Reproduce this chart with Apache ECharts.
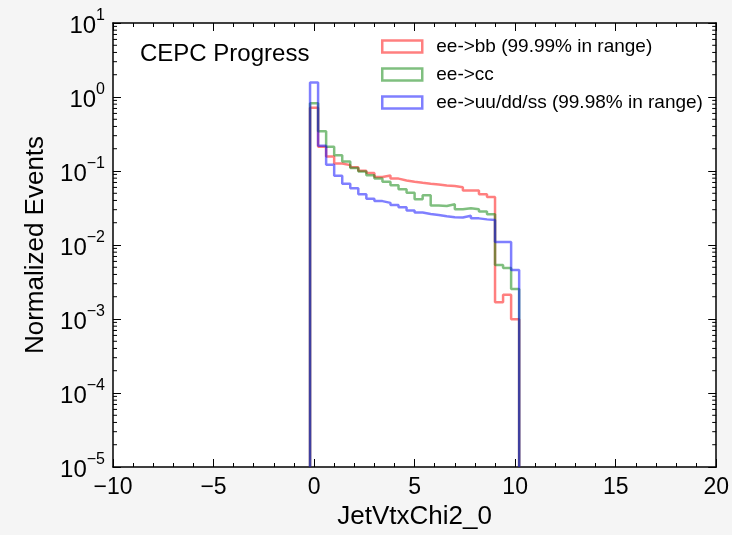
<!DOCTYPE html>
<html>
<head>
<meta charset="utf-8">
<title>JetVtxChi2_0</title>
<script src="https://cdn.jsdelivr.net/npm/echarts@6/dist/echarts.min.js"></script>
<style>
  html, body { margin: 0; padding: 0; background: #f5f5f5; }
  #chart { width: 732px; height: 535px; }
</style>
</head>
<body>
<div id="chart"></div>
<script>
// Histogram bin edges (26 bins of width 0.4)
const binEdges = [-0.2, 0.2, 0.6, 1.0, 1.4, 1.8, 2.2, 2.6, 3.0, 3.4, 3.8, 4.2, 4.6,
  5.0, 5.4, 5.8, 6.2, 6.6, 7.0, 7.4, 7.8, 8.2, 8.6, 9.0, 9.4, 9.8, 10.2];

// Normalized bin contents per sample
const bbValues = [0.713, 0.213, 0.157, 0.126, 0.120, 0.112, 0.101, 0.094, 0.0832, 0.0871,
  0.0789, 0.0743, 0.0714, 0.0692, 0.0671, 0.0657, 0.0637, 0.0625, 0.0603, 0.0546,
  0.0546, 0.0486, 0.0446, 0.00169, 0.00213, 0.00099];
const ccValues = [0.824, 0.345, 0.212, 0.163, 0.134, 0.110, 0.0988, 0.0877, 0.0794, 0.0714,
  0.0641, 0.0567, 0.0509, 0.0414, 0.0469, 0.0342, 0.0336, 0.0355, 0.0305, 0.0314,
  0.0305, 0.0284, 0.0261, 0.00536, 0.00489, 0.00254];
const udsValues = [1.57, 0.220, 0.121, 0.0863, 0.0671, 0.0584, 0.0486, 0.0423, 0.0392, 0.0371,
  0.0347, 0.0324, 0.0293, 0.0275, 0.0263, 0.0255, 0.0245, 0.0238, 0.0236, 0.0249,
  0.0229, 0.0222, 0.0217, 0.0110, 0.0110, 0.0046];

const seriesNames = ['ee->bb (99.99% in range)', 'ee->cc', 'ee->uu/dd/ss (99.98% in range)'];
const seriesColors = ['rgba(255,0,0,0.5)', 'rgba(0,128,0,0.5)', 'rgba(0,0,255,0.5)'];

// Axis ranges and tick labels
const xRange = [-10, 20];
const xTicks = [-10, -5, 0, 5, 10, 15, 20];
const yRange = [1e-5, 10];
const yDecades = [-5, -4, -3, -2, -1, 0, 1];
const minorFactors = [2, 3, 4, 5, 6, 7, 8, 9];

const FONT = '"Liberation Sans", Arial, sans-serif';

// Step outline: rise from the floor, walk along each bin, drop back to the floor
function stepPoints(values) {
  const pts = [[binEdges[0], yRange[0]]];
  for (let i = 0; i < values.length; i++) pts.push([binEdges[i], values[i]]);
  pts.push([binEdges[binEdges.length - 1], values[values.length - 1]]);
  pts.push([binEdges[binEdges.length - 1], yRange[0]]);
  return pts;
}

const minorTickData = [];
yDecades.slice(0, -1).forEach(d => {
  minorFactors.forEach(f => minorTickData.push([xRange[0], f * Math.pow(10, d)]));
});

function minus(s) { return String(s).replace('-', '\u2212'); }

const chart = echarts.init(document.getElementById('chart'), null, { renderer: 'canvas' });

const tickStyle = { color: '#000', width: 1 };
const axisLineStyle = { color: '#000', width: 1.5 };

const option = {
  backgroundColor: '#f5f5f5',
  animation: false,
  textStyle: { fontFamily: FONT },
  title: {
    text: 'CEPC Progress',
    left: 140,
    top: 42,
    padding: 0,
    textStyle: { fontFamily: FONT, fontSize: 24, fontWeight: 'normal', color: '#000' }
  },
  legend: {
    data: seriesNames.map((n, i) => ({
      name: n,
      icon: 'rect',
      itemStyle: { color: 'rgba(0,0,0,0)', borderColor: seriesColors[i], borderWidth: 2.5 }
    })),
    orient: 'vertical',
    left: 381,
    top: 37,
    padding: 0,
    itemWidth: 40,
    itemHeight: 12,
    itemGap: 9,
    selectedMode: false,
    textStyle: { fontFamily: FONT, fontSize: 19, color: '#000', padding: [0, 0, 0, 9] }
  },
  grid: {
    left: 113, right: 14, top: 23, bottom: 62,
    show: true, backgroundColor: '#ffffff', borderWidth: 0
  },
  xAxis: [
    {
      type: 'value', min: xRange[0], max: xRange[1], interval: 5,
      position: 'bottom',
      name: 'JetVtxChi2_0', nameLocation: 'middle', nameGap: 37,
      nameTextStyle: { fontFamily: FONT, fontSize: 26, color: '#000' },
      axisLine: { show: true, onZero: false, lineStyle: axisLineStyle },
      axisTick: { show: true, inside: true, length: 8, lineStyle: tickStyle },
      minorTick: { show: true, splitNumber: 5, length: 4, lineStyle: tickStyle },
      splitLine: { show: false },
      axisLabel: {
        fontFamily: FONT, fontSize: 23, color: '#000', margin: 9,
        formatter: v => minus(v)
      }
    },
    {
      type: 'value', min: xRange[0], max: xRange[1], interval: 5,
      position: 'top',
      axisLine: { show: true, onZero: false, lineStyle: axisLineStyle },
      axisTick: { show: true, inside: true, length: 8, lineStyle: tickStyle },
      minorTick: { show: true, splitNumber: 5, length: 4, lineStyle: tickStyle },
      splitLine: { show: false },
      axisLabel: { show: false }
    }
  ],
  yAxis: [
    {
      type: 'log', logBase: 10, min: yRange[0], max: yRange[1], interval: 1, splitNumber: 6,
      position: 'left',
      name: 'Normalized Events', nameLocation: 'middle', nameGap: 50,
      nameTextStyle: { fontFamily: FONT, fontSize: 26, color: '#000' },
      axisLine: { show: true, onZero: false, lineStyle: axisLineStyle },
      axisTick: { show: true, inside: true, length: 8, lineStyle: tickStyle },
      minorTick: { show: false },
      splitLine: { show: false },
      axisLabel: {
        margin: 8,
        formatter: v => '{b|10}{s|' + minus(Math.round(Math.log10(v))) + '}',
        rich: {
          b: { fontFamily: FONT, fontSize: 24, color: '#000', lineHeight: 30, verticalAlign: 'bottom' },
          s: { fontFamily: FONT, fontSize: 16, color: '#000', lineHeight: 16, verticalAlign: 'top' }
        }
      }
    },
    {
      type: 'log', logBase: 10, min: yRange[0], max: yRange[1], interval: 1, splitNumber: 6,
      position: 'right',
      axisLine: { show: true, onZero: false, lineStyle: axisLineStyle },
      axisTick: { show: true, inside: true, length: 8, lineStyle: tickStyle },
      minorTick: { show: false },
      splitLine: { show: false },
      axisLabel: { show: false }
    }
  ],
  series: [
    ...[bbValues, ccValues, udsValues].map((vals, i) => ({
      name: seriesNames[i],
      type: 'line',
      step: 'end',
      xAxisIndex: 0,
      yAxisIndex: 0,
      data: stepPoints(vals),
      showSymbol: false,
      symbol: 'none',
      color: seriesColors[i],
      lineStyle: { color: seriesColors[i], width: 2.5 },
      emphasis: { disabled: true },
      z: 3 + i
    })),
    {
      // log-scale minor ticks on the left and right frame edges
      type: 'custom',
      name: 'minorTicks',
      xAxisIndex: 0,
      yAxisIndex: 0,
      silent: true,
      data: minorTickData,
      encode: { x: 0, y: 1 },
      renderItem: (params, api) => {
        const v = api.value(1);
        const l = api.coord([xRange[0], v]);
        const r = api.coord([xRange[1], v]);
        return {
          type: 'group',
          children: [
            { type: 'line', shape: { x1: l[0], y1: l[1], x2: l[0] + 4, y2: l[1] }, style: { stroke: '#000', lineWidth: 1 } },
            { type: 'line', shape: { x1: r[0] - 4, y1: r[1], x2: r[0], y2: r[1] }, style: { stroke: '#000', lineWidth: 1 } }
          ]
        };
      },
      z: 10
    }
  ]
};

chart.setOption(option);
</script>
</body>
</html>
